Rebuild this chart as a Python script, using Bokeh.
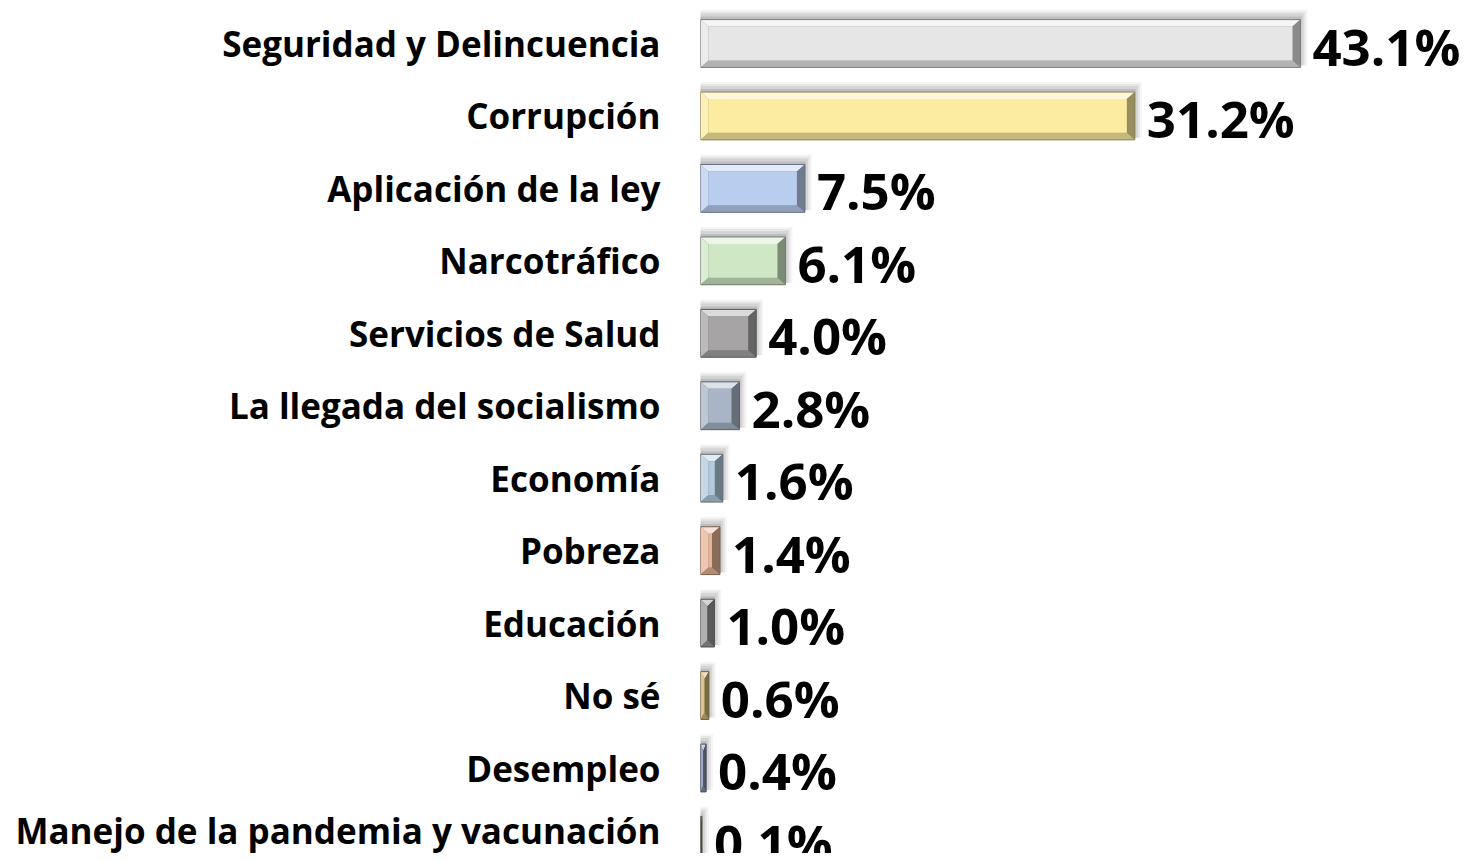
from bokeh.plotting import figure
from bokeh.models import Range1d, FixedTicker, ColumnDataSource
from bokeh.core.properties import value
from bokeh.embed import file_html
from bokeh.resources import INLINE

categories = ["Seguridad y Delincuencia", "Corrupción", "Aplicación de la ley", "Narcotráfico",
              "Servicios de Salud", "La llegada del socialismo", "Economía", "Pobreza",
              "Educación", "No sé", "Desempleo", "Manejo de la pandemia y vacunación"]
values = [43.1, 31.2, 7.5, 6.1, 4.0, 2.8, 1.6, 1.4, 1.0, 0.6, 0.4, 0.1]
colors = ["#e6e6e6", "#fcec9f", "#b9cdef", "#cfe7c4", "#a6a4a5", "#a9b5c7",
          "#b2cadd", "#e6b497", "#959595", "#cbb273", "#7e8bab", "#6e7d5c"]
labels = [f"{v:.1f}%" for v in values]

W, H = 1466, 853
LEFT = 700
PX_PER_UNIT = 13.92
ROW_PX = 72.45

def mix(hexc, other, t):
    h = hexc.lstrip("#")
    r, g, b = int(h[0:2], 16), int(h[2:4], 16), int(h[4:6], 16)
    o = (255, 255, 255) if other == "w" else (0, 0, 0)
    r = round(r + (o[0] - r) * t); g = round(g + (o[1] - g) * t); b = round(b + (o[2] - b) * t)
    return "#%02x%02x%02x" % (r, g, b)

x_end = (W - LEFT) / PX_PER_UNIT
y_top = -43 / ROW_PX
y_bot = y_top + H / ROW_PX

p = figure(width=W, height=H, output_backend="svg", toolbar_location=None,
           x_range=Range1d(0, x_end), y_range=Range1d(y_bot, y_top),
           min_border_left=LEFT, min_border_right=0, min_border_top=0, min_border_bottom=0)
p.outline_line_color = None
p.grid.visible = False
p.xaxis.visible = False

ys = list(range(len(categories)))
h = 0.33
bxu = 8 / PX_PER_UNIT
byu = 7 / ROW_PX

# soft shadows
for dx, dy, a in [(7, 10, 0.04), (5, 8, 0.06), (3, 6, 0.08), (1, 3, 0.1)]:
    p.quad(left=[-1.0 / PX_PER_UNIT for _ in values],
           right=[v + dx / PX_PER_UNIT for v in values],
           top=[y - h - dy / ROW_PX for y in ys],
           bottom=[y + h - 2 / ROW_PX for y in ys],
           fill_color="#000000", fill_alpha=a, line_color=None)

px_, py_, pc_ = [], [], []
for v, y, c in zip(values, ys, colors):
    bx = min(bxu, v / 2)
    t, b = y - h, y + h
    polys = [
        ([0, v, v, 0], [t, t, b, b], mix(c, "k", 0.35)),
        ([0, v, v - bx, bx], [t, t, t + byu, t + byu], mix(c, "w", 0.6)),
        ([0, bx, bx, 0], [t, t + byu, b - byu, b], mix(c, "w", 0.25)),
        ([v, v - bx, v - bx, v], [t, t + byu, b - byu, b], mix(c, "k", 0.4)),
        ([0, v, v - bx, bx], [b, b, b - byu, b - byu], mix(c, "k", 0.22)),
        ([bx, v - bx, v - bx, bx], [t + byu, t + byu, b - byu, b - byu], c),
    ]
    for xs_, ys_, col in polys:
        px_.append(xs_); py_.append(ys_); pc_.append(col)

p.patches(xs=px_, ys=py_, fill_color=pc_, line_color=None)
p.quad(left=[0] * len(values), right=values, top=[y - h for y in ys], bottom=[y + h for y in ys],
       fill_color=None, line_color=[mix(c, "k", 0.45) for c in colors], line_width=1)

src = ColumnDataSource(dict(x=values, y=ys, t=labels))
p.text(x="x", y="y", text="t", source=src, x_offset=12, y_offset=2, text_baseline="middle",
       text_align="left", text_font=value("Open Sans"), text_font_style="bold",
       text_font_size="51px", text_color="#000000")

p.yaxis.ticker = FixedTicker(ticks=ys)
p.yaxis.major_label_overrides = {i: c for i, c in enumerate(categories)}
p.yaxis.major_label_text_font = "Open Sans"
p.yaxis.major_label_text_font_style = "bold"
p.yaxis.major_label_text_font_size = "35px"
p.yaxis.major_label_text_color = "#000000"
p.yaxis.axis_line_color = None
p.yaxis.major_tick_line_color = None
p.yaxis.minor_tick_line_color = None
p.yaxis.major_tick_out = 0
p.yaxis.major_tick_in = 0
p.yaxis.major_label_standoff = 40

open("out.html", "w").write(file_html(p, INLINE))
